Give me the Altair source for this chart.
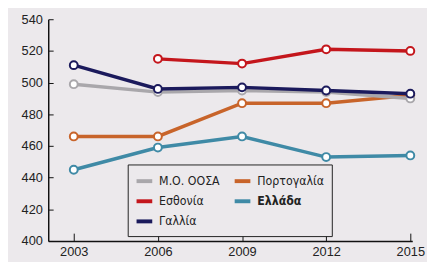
import altair as alt
import pandas as pd

years = [2003, 2006, 2009, 2012, 2015]
series_names = ["Μ.Ο. ΟΟΣΑ", "Εσθονία", "Γαλλία", "Πορτογαλία", "Ελλάδα"]
colors = ["#a9a7ab", "#c4161c", "#1b1a5c", "#c8642a", "#3f8aa6"]
oecd = [499, 494, 495, 494, 490]
portugal = [466, 466, 487, 487, 492]
estonia = [None, 515, 512, 521, 520]
greece = [445, 459, 466, 453, 454]
france = [511, 496, 497, 495, 493]

values = {
    "Μ.Ο. ΟΟΣΑ": oecd,
    "Πορτογαλία": portugal,
    "Εσθονία": estonia,
    "Ελλάδα": greece,
    "Γαλλία": france,
}
rows = []
for name, vals in values.items():
    for y, v in zip(years, vals):
        if v is not None:
            rows.append({"year": y, "score": v, "country": name})
df = pd.DataFrame(rows)

W, H = 371, 226
xscale = alt.Scale(domain=[2002.09, 2015.07], nice=False, zero=False)
yscale = alt.Scale(domain=[400, 540], nice=False, zero=False)
cscale = alt.Scale(domain=series_names, range=colors)

legend = alt.Legend(
    title=None, orient="none", legendX=81, legendY=148, columns=2,
    symbolType="stroke", symbolStrokeWidth=4, symbolSize=256,
    labelFont="DejaVu Sans Condensed", labelFontSize=12.5, labelColor="#222222",
    labelFontWeight=alt.ExprRef("datum.label == 'Ελλάδα' ? 'bold' : 'normal'"),
    labelOffset=5, columnPadding=7, rowPadding=2.5, padding=7,
    strokeColor="#222222", fillColor="#ece9ec", labelLimit=200,
)

main_x = alt.Axis(values=years, format="d", grid=False, ticks=False, domainColor="#111111",
                  domainWidth=1.5, labelFont="Liberation Sans", labelFontSize=13,
                  labelColor="#222222", labelPadding=5, title=None)
main_y = alt.Axis(values=[400, 420, 440, 460, 480, 500, 520, 540], grid=False, ticks=False,
                  domainColor="#111111", domainWidth=1.5, labelFont="Liberation Sans",
                  labelFontSize=13, labelColor="#222222", labelPadding=6, title=None)
tick_x = alt.Axis(values=years, orient="top", offset=-H, labels=False, domain=False,
                  grid=False, ticks=True, tickSize=8, tickColor="#111111", tickWidth=1, title=None)
tick_y = alt.Axis(values=[400, 420, 440, 460, 480, 500, 520, 540], orient="right", offset=-W,
                  labels=False, domain=False, grid=False, ticks=True, tickSize=5,
                  tickColor="#111111", tickWidth=1, title=None)

base = alt.Chart(df)

axes_layer = base.mark_point(opacity=0).encode(
    x=alt.X("year:Q", scale=xscale, axis=main_x),
    y=alt.Y("score:Q", scale=yscale, axis=main_y),
)
ticks_layer = base.mark_point(opacity=0).encode(
    x=alt.X("year:Q", scale=xscale, axis=tick_x),
    y=alt.Y("score:Q", scale=yscale, axis=tick_y),
)

draw_order = ["Πορτογαλία", "Ελλάδα", "Εσθονία", "Μ.Ο. ΟΟΣΑ", "Γαλλία"]
layers = [axes_layer, ticks_layer]
for name in draw_order:
    sub = base.transform_filter(alt.datum.country == name)
    enc = dict(
        x=alt.X("year:Q", scale=xscale, axis=None),
        y=alt.Y("score:Q", scale=yscale, axis=None),
        color=alt.Color("country:N", scale=cscale, legend=legend),
    )
    layers.append(sub.mark_line(strokeWidth=3.5).encode(**enc))
    layers.append(sub.mark_point(filled=True, fill="white", strokeWidth=2, size=64, opacity=1).encode(
        x=enc["x"], y=enc["y"], stroke=alt.Color("country:N", scale=cscale, legend=None)))

chart = alt.layer(*layers).resolve_axis(x="independent", y="independent").properties(
    width=W, height=H, background="#ece9ec",
    autosize=alt.AutoSizeParams(type="none"),
    padding={"left": 41, "top": 9, "right": 15, "bottom": 22},
).configure_view(stroke=None)

chart.save("out.html", embed_options={"renderer": "svg", "actions": False})
